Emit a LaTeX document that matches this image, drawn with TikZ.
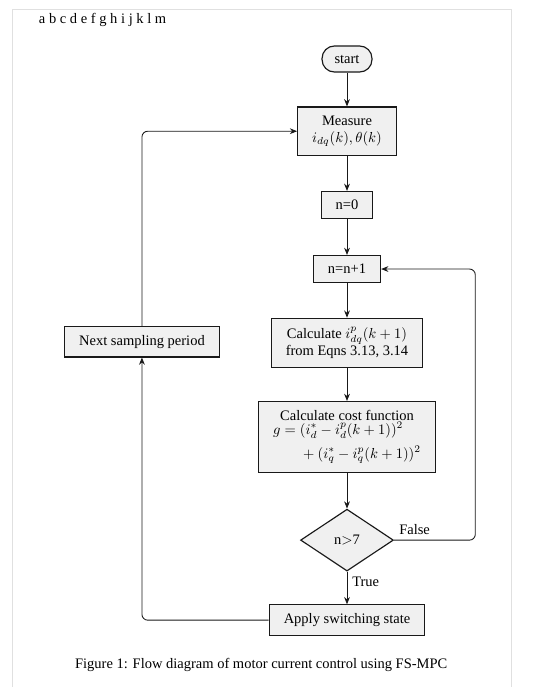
\documentclass[tikz,border=0pt]{standalone}
\usepackage[no-math]{fontspec}
\setmainfont{Liberation Serif}
\usepackage{amsmath}
\usetikzlibrary{shapes.geometric,arrows.meta}

\begin{document}
\begin{tikzpicture}[>={Stealth[length=5pt,width=4pt]}]
    \tikzstyle{block}=[rectangle,draw=black!90,fill=black!6,thick,align=center,inner xsep=10pt,inner ysep=6pt]
    \tikzstyle{term}=[rectangle,rounded corners=8.5pt,draw=black!90,fill=black!6,thick,minimum width=1.21cm,minimum height=0.63cm]
    \tikzstyle{test}=[diamond,draw=black!90,fill=black!6,thick,minimum width=2.25cm,minimum height=1.5cm,inner sep=0pt]
    \tikzstyle{flow}=[->,semithick,draw=black!90,rounded corners=4pt]

    \useasboundingbox (0,0) rectangle (13.09,-16.65);
    \draw[black!12,thin] (0.29,-16.65) |- (12.39,-0.22) -- (12.39,-16.65);
    \node[anchor=west] (letters) at (0.82,-0.48) {a b c d e f g h i j k l m};

    \node[term] (start) at (8.41,-1.43) {start};
    \node[block] (measure) at (8.41,-3.18) {Measure\\ $i_{dq}(k), \theta(k)$};
    \node[block] (zero) at (8.41,-4.97) {n=0};
    \node[block] (inc) at (8.41,-6.52) {n=n+1};
    \node[block] (pred) at (8.41,-8.31) {Calculate $i^p_{dq}(k+1)$\\ from Eqns 3.13, 3.14};
    \node[block] (cost) at (8.41,-10.59) {Calculate cost function\\
        $\begin{aligned} g = {}&(i_d^* - i_d^p(k+1))^2\\ &+ (i_q^* - i_q^p(k+1))^2\end{aligned}$};
    \node[test] (check) at (8.41,-13.09) {n$>$7};
    \node[block] (apply) at (8.41,-15.03) {Apply switching state};
    \node[block] (next) at (3.44,-8.28) {Next sampling period};

    \foreach \from/\to in {start/measure, measure/zero, zero/inc, inc/pred, pred/cost, cost/check}
        \draw[flow] (\from) -- (\to);

    \draw[flow] (check) -- node[pos=0,below right] {True} (apply);
    \draw[flow] (check.east) -- node[pos=0,above right] {False} ++(1.97,0) |- (inc.east);
    \draw[flow] (apply.west) -| (next.south);
    \draw[flow] (next.north) |- (measure.west);

    \node (caption) at (6.33,-16.12) {Figure 1: Flow diagram of motor current control using FS-MPC};
\end{tikzpicture}
\end{document}
